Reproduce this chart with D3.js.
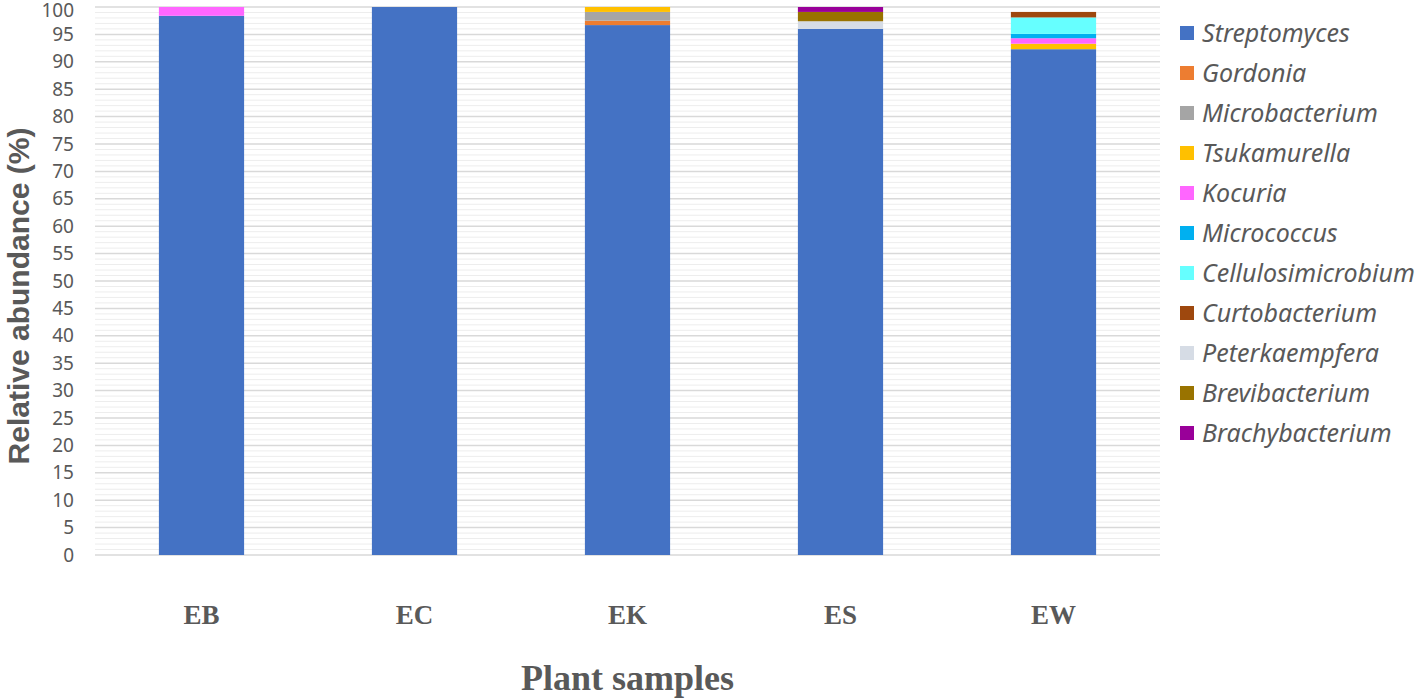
<!DOCTYPE html>
<html>
<head>
<meta charset="utf-8">
<script src="https://cdn.jsdelivr.net/npm/d3@7"></script>
<style>
  html, body { margin: 0; padding: 0; background: #fff; }
  svg { display: block; }
</style>
</head>
<body>
<div id="chart"></div>
<script>
  // plant samples along the x axis
  const samples = ["EB", "EC", "EK", "ES", "EW"];

  // genera, in stacking / legend order
  const genera = [
    "Streptomyces", "Gordonia", "Microbacterium", "Tsukamurella", "Kocuria",
    "Micrococcus", "Cellulosimicrobium", "Curtobacterium", "Peterkaempfera",
    "Brevibacterium", "Brachybacterium"
  ];

  // relative abundance (%) per sample, one array per genus
  const streptomyces = [98.4, 100, 96.7, 96.0, 92.3];
  const gordonia = [0, 0, 0.8, 0, 0];
  const microbacterium = [0, 0, 1.6, 0, 0];
  const tsukamurella = [0, 0, 0.9, 0, 1.0];
  const kocuria = [1.6, 0, 0, 0, 1.0];
  const micrococcus = [0, 0, 0, 0, 0.8];
  const cellulosimicrobium = [0, 0, 0, 0, 3.0];
  const curtobacterium = [0, 0, 0, 0, 1.0];
  const peterkaempfera = [0, 0, 0, 1.4, 0];
  const brevibacterium = [0, 0, 0, 1.7, 0];
  const brachybacterium = [0, 0, 0, 0.9, 0];

  const yTicks = d3.range(0, 101, 5);

  const colors = [
    "#4472c4", "#ed7d31", "#a5a5a5", "#ffc000", "#ff66ff",
    "#00b0f0", "#66ffff", "#9e480e", "#d6dce5", "#997300", "#990099"
  ];

  const seriesValues = [
    streptomyces, gordonia, microbacterium, tsukamurella, kocuria,
    micrococcus, cellulosimicrobium, curtobacterium, peterkaempfera,
    brevibacterium, brachybacterium
  ];

  const rows = samples.map((sample, i) => {
    const row = { sample };
    genera.forEach((genus, g) => { row[genus] = seriesValues[g][i]; });
    return row;
  });

  const width = 1417;
  const height = 699;
  const plot = { left: 95, right: 1160, top: 7, bottom: 555 };
  const textGray = "#595959";

  const svg = d3.select("#chart")
    .append("svg")
    .attr("width", width)
    .attr("height", height);

  const x = d3.scaleBand()
    .domain(samples)
    .range([plot.left, plot.right])
    .paddingInner(0.6)
    .paddingOuter(0.3);

  const y = d3.scaleLinear()
    .domain([0, 100])
    .range([plot.bottom, plot.top]);

  // minor and major gridlines
  svg.append("g")
    .selectAll("line")
    .data(d3.range(0, 101, 1).filter((v) => v % 5 !== 0))
    .join("line")
    .attr("x1", plot.left)
    .attr("x2", plot.right)
    .attr("y1", (v) => y(v))
    .attr("y2", (v) => y(v))
    .attr("stroke", "#ededed")
    .attr("stroke-width", 1);

  svg.append("g")
    .selectAll("line")
    .data(yTicks)
    .join("line")
    .attr("x1", plot.left)
    .attr("x2", plot.right)
    .attr("y1", (v) => y(v))
    .attr("y2", (v) => y(v))
    .attr("stroke", "#d9d9d9")
    .attr("stroke-width", 1.5);

  const stacked = d3.stack().keys(genera)(rows);

  svg.append("g")
    .selectAll("g")
    .data(stacked)
    .join("g")
    .attr("fill", (s, i) => colors[i])
    .selectAll("rect")
    .data((s) => s.filter((d) => d[1] - d[0] > 0))
    .join("rect")
    .attr("x", (d) => x(d.data.sample))
    .attr("width", x.bandwidth())
    .attr("y", (d) => y(d[1]))
    .attr("height", (d) => y(d[0]) - y(d[1]));

  // y axis tick labels
  const yAxis = svg.append("g")
    .attr("transform", `translate(${plot.left - 21},0)`)
    .call(d3.axisLeft(y).tickValues(yTicks).tickSize(0).tickPadding(0));
  yAxis.select(".domain").remove();
  yAxis.selectAll("text")
    .attr("fill", textGray)
    .attr("font-family", "'Noto Sans', sans-serif")
    .attr("font-size", 19)
    .attr("dy", (v) => (v === 100 ? "0.5em" : "0.32em"));

  // x axis category labels
  const xAxis = svg.append("g")
    .attr("transform", `translate(0,${plot.bottom})`)
    .call(d3.axisBottom(x).tickSize(0).tickPadding(50));
  xAxis.select(".domain").remove();
  xAxis.selectAll("text")
    .attr("fill", textGray)
    .attr("font-family", "'Liberation Serif', 'Times New Roman', serif")
    .attr("font-weight", "bold")
    .attr("font-size", 27);

  svg.append("text")
    .attr("x", (plot.left + plot.right) / 2)
    .attr("y", 690)
    .attr("text-anchor", "middle")
    .attr("fill", textGray)
    .attr("font-family", "'Liberation Serif', 'Times New Roman', serif")
    .attr("font-weight", "bold")
    .attr("font-size", 36)
    .text("Plant samples");

  svg.append("text")
    .attr("transform", `translate(29,${(plot.top + plot.bottom) / 2 + 15}) rotate(-90)`)
    .attr("text-anchor", "middle")
    .attr("fill", textGray)
    .attr("font-family", "'Liberation Sans', Arial, sans-serif")
    .attr("font-weight", "bold")
    .attr("font-size", 30)
    .text("Relative abundance (%)");

  // legend
  const legend = svg.append("g")
    .attr("transform", "translate(1180,33)");

  const item = legend.selectAll("g")
    .data(genera)
    .join("g")
    .attr("transform", (d, i) => `translate(0,${i * 40})`);

  item.append("rect")
    .attr("x", 0)
    .attr("y", -7)
    .attr("width", 14)
    .attr("height", 14)
    .attr("fill", (d, i) => colors[i]);

  item.append("text")
    .attr("x", 22)
    .attr("dy", "0.35em")
    .attr("fill", textGray)
    .attr("font-family", "'Noto Sans', sans-serif")
    .attr("font-style", "italic")
    .attr("font-size", 25)
    .text((d) => d);
</script>
</body>
</html>
